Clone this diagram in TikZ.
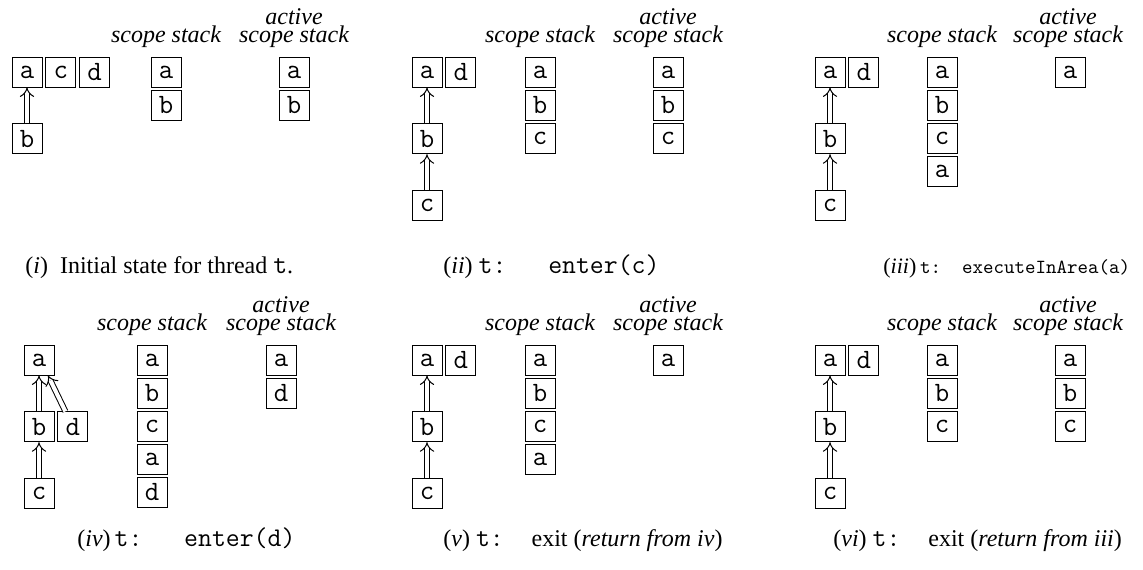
\documentclass[tikz,border=0pt]{standalone}
\usepackage{fontspec}
\setmainfont{Liberation Serif}
\usetikzlibrary{arrows.meta, positioning}
\newcommand{\threadcode}[1]{{\fontsize{13.5}{14}\selectfont\ttfamily #1}}

\begin{document}
\begin{tikzpicture}[
    x=0.5pt, y=-0.5pt,
    node distance=18pt and 1.5pt,
    scopebox/.style={draw, minimum width=15pt, minimum height=15pt, inner sep=0pt, font=\fontsize{14}{14}\selectfont\ttfamily},
    head/.style={font=\fontsize{12}{9}\selectfont\itshape, align=center, anchor=base, inner sep=0pt},
    subcap/.style={font=\fontsize{12}{14}\selectfont, anchor=base west, inner sep=0pt},
    parent/.style={line width=0.5pt, double, double distance=2pt, -{Implies[length=4pt, width=9pt]}}
]
    \useasboundingbox (0,0) rectangle (1143,569);

    % (i) initial state
    \node[scopebox] (ta1) at (27,72) {a};
    \node[scopebox, right=of ta1] (tc1) {c};
    \node[scopebox, right=of tc1] (td1) {d};
    \node[scopebox, below=of ta1] (tb1) {b};
    \draw[parent] (tb1) -- (ta1);
    \node[head] (hs1) at (166,42) {scope stack};
    \node[head] (ha1) at (294,42) {active\\scope stack};
    \foreach \t [count=\k] in {a,b} \node[scopebox] (ss1\k) at (166,{39+33*\k}) {\t};
    \foreach \t [count=\k] in {a,b} \node[scopebox] (as1\k) at (294,{39+33*\k}) {\t};
    \node[subcap] (cap1) at (25,273) {(\textit{i})\ \ Initial state for thread \threadcode{t}.};

    % (ii) enter(c)
    \node[scopebox] (ta2) at (427,72) {a};
    \node[scopebox, right=of ta2] (td2) {d};
    \node[scopebox, below=of ta2] (tb2) {b};
    \node[scopebox, below=of tb2] (tc2) {c};
    \draw[parent] (tb2) -- (ta2);
    \draw[parent] (tc2) -- (tb2);
    \node[head] (hs2) at (540,42) {scope stack};
    \node[head] (ha2) at (668,42) {active\\scope stack};
    \foreach \t [count=\k] in {a,b,c} \node[scopebox] (ss2\k) at (540,{39+33*\k}) {\t};
    \foreach \t [count=\k] in {a,b,c} \node[scopebox] (as2\k) at (668,{39+33*\k}) {\t};
    \node[subcap] (cap2) at (443,273) {(\textit{ii}) \threadcode{t:\ \ \ enter(c)}};

    % (iii) executeInArea(a)
    \node[scopebox] (ta3) at (830,72) {a};
    \node[scopebox, right=of ta3] (td3) {d};
    \node[scopebox, below=of ta3] (tb3) {b};
    \node[scopebox, below=of tb3] (tc3) {c};
    \draw[parent] (tb3) -- (ta3);
    \draw[parent] (tc3) -- (tb3);
    \node[head] (hs3) at (942,42) {scope stack};
    \node[head] (ha3) at (1068,42) {active\\scope stack};
    \foreach \t [count=\k] in {a,b,c,a} \node[scopebox] (ss3\k) at (942,{39+33*\k}) {\t};
    \foreach \t [count=\k] in {a} \node[scopebox] (as3\k) at (1070,{39+33*\k}) {\t};
    \node[subcap] (cap3) at (883,273) {\fontsize{11}{13}\selectfont(\textit{iii})\,{\fontsize{10}{13}\selectfont\ttfamily t:\ \ executeInArea(a)}};

    % (iv) enter(d)
    \node[scopebox] (ta4) at (39,360) {a};
    \node[scopebox, below=of ta4] (tb4) {b};
    \node[scopebox, right=of tb4] (td4) {d};
    \node[scopebox, below=of tb4] (tc4) {c};
    \draw[parent] (tb4) -- (ta4);
    \draw[parent] ([xshift=4pt]td4.north west) -- ([xshift=4.5pt]ta4.south);
    \draw[parent] (tc4) -- (tb4);
    \node[head] (hs4) at (152,330) {scope stack};
    \node[head] (ha4) at (281,330) {active\\scope stack};
    \foreach \t [count=\k] in {a,b,c,a,d} \node[scopebox] (ss4\k) at (152,{327+33*\k}) {\t};
    \foreach \t [count=\k] in {a,d} \node[scopebox] (as4\k) at (281,{327+33*\k}) {\t};
    \node[subcap] (cap4) at (77,546) {(\textit{iv})\,\threadcode{t:\ \ \ enter(d)}};

    % (v) exit, return from iv
    \node[scopebox] (ta5) at (427,360) {a};
    \node[scopebox, right=of ta5] (td5) {d};
    \node[scopebox, below=of ta5] (tb5) {b};
    \node[scopebox, below=of tb5] (tc5) {c};
    \draw[parent] (tb5) -- (ta5);
    \draw[parent] (tc5) -- (tb5);
    \node[head] (hs5) at (540,330) {scope stack};
    \node[head] (ha5) at (668,330) {active\\scope stack};
    \foreach \t [count=\k] in {a,b,c,a} \node[scopebox] (ss5\k) at (540,{327+33*\k}) {\t};
    \foreach \t [count=\k] in {a} \node[scopebox] (as5\k) at (668,{327+33*\k}) {\t};
    \node[subcap] (cap5) at (443,546) {(\textit{v}) \threadcode{t:\ \ }exit (\textit{return from iv})};

    % (vi) exit, return from iii
    \node[scopebox] (ta6) at (830,360) {a};
    \node[scopebox, right=of ta6] (td6) {d};
    \node[scopebox, below=of ta6] (tb6) {b};
    \node[scopebox, below=of tb6] (tc6) {c};
    \draw[parent] (tb6) -- (ta6);
    \draw[parent] (tc6) -- (tb6);
    \node[head] (hs6) at (942,330) {scope stack};
    \node[head] (ha6) at (1068,330) {active\\scope stack};
    \foreach \t [count=\k] in {a,b,c} \node[scopebox] (ss6\k) at (942,{327+33*\k}) {\t};
    \foreach \t [count=\k] in {a,b,c} \node[scopebox] (as6\k) at (1070,{327+33*\k}) {\t};
    \node[subcap] (cap6) at (833,546) {(\textit{vi}) \threadcode{t:\ \ }exit (\textit{return from iii})};
\end{tikzpicture}
\end{document}
